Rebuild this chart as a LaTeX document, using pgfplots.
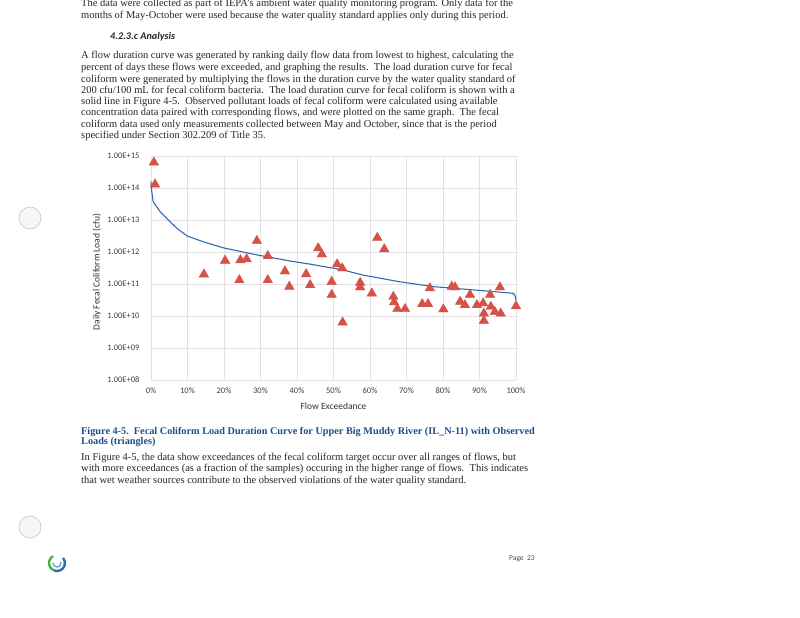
\documentclass[border=0pt]{standalone}
\usepackage{fontspec}
\setmainfont{Liberation Serif}
\newfontfamily\chartfont{Carlito}
\usepackage{pgfplots}
\pgfplotsset{compat=1.18}
\definecolor{tri}{RGB}{212,82,72}
\definecolor{curveblue}{RGB}{46,108,178}
\definecolor{capblue}{RGB}{31,78,140}
\definecolor{gridgray}{RGB}{226,226,226}
\begin{document}
\begin{tikzpicture}
\path[fill=white,use as bounding box] (0pt,0pt) rectangle (800pt,-618pt);
\tikzset{bl/.style={anchor=base west, inner sep=0pt, font=\fontsize{10.5}{12}\selectfont, text=black!85}}
\tikzset{capt/.style={anchor=base west, inner sep=0pt, font=\bfseries\fontsize{10.25}{12}\selectfont, text=capblue}}
% top paragraph
\node[bl] at (81pt,-7pt) {The data were collected as part of IEPA’s ambient water quality monitoring program. Only data for the};
\node[bl] at (81pt,-18.5pt) {months of May-October were used because the water quality standard applies only during this period.};
\node[anchor=base west, inner sep=0pt, font=\chartfont\bfseries\itshape\fontsize{10.2}{12}\selectfont, text=black!85] at (110pt,-40pt) {4.2.3.c Analysis};
\node[bl] at (81pt,-59pt) {A flow duration curve was generated by ranking daily flow data from lowest to highest, calculating the};
\node[bl] at (81pt,-70.5pt) {percent of days these flows were exceeded, and graphing the results.\ \ The load duration curve for fecal};
\node[bl] at (81pt,-82pt) {coliform were generated by multiplying the flows in the duration curve by the water quality standard of};
\node[bl] at (81pt,-93.3pt) {200 cfu/100 mL for fecal coliform bacteria.\ \ The load duration curve for fecal coliform is shown with a};
\node[bl] at (81pt,-104.6pt) {solid line in Figure 4-5.\ \ Observed pollutant loads of fecal coliform were calculated using available};
\node[bl] at (81pt,-115.9pt) {concentration data paired with corresponding flows, and were plotted on the same graph.\ \ The fecal};
\node[bl] at (81pt,-127.2pt) {coliform data used only measurements collected between May and October, since that is the period};
\node[bl] at (81pt,-138.5pt) {specified under Section 302.209 of Title 35.};
% caption
\node[capt] at (81pt,-434.5pt) {Figure 4-5.\ \ Fecal Coliform Load Duration Curve for Upper Big Muddy River (IL\_N-11) with Observed};
\node[capt] at (81pt,-444.5pt) {Loads (triangles)};
\node[bl] at (81pt,-460pt) {In Figure 4-5, the data show exceedances of the fecal coliform target occur over all ranges of flows, but};
\node[bl] at (81pt,-471.7pt) {with more exceedances (as a fraction of the samples) occuring in the higher range of flows.\ \ This indicates};
\node[bl] at (81pt,-483.3pt) {that wet weather sources contribute to the observed violations of the water quality standard.};
% page decorations
\draw[draw=gray!45, fill=gray!7, line width=0.6pt] (30pt,-218pt) circle (11pt);
\draw[draw=gray!45, fill=gray!7, line width=0.6pt] (30pt,-527pt) circle (11pt);
\draw[line width=2.4pt, draw=green!55!black!70] (57pt,-563pt) ++(120:8pt) arc (120:250:8pt);
\draw[line width=2.4pt, draw=curveblue] (57pt,-563pt) ++(250:8pt) arc (250:400:8pt);
\draw[line width=1.4pt, draw=cyan!60!blue!60] (57pt,-563pt) ++(180:4pt) arc (180:380:4pt);
\node[anchor=base west, inner sep=0pt, font=\chartfont\fontsize{7.5}{8}\selectfont, text=black!70] at (509pt,-560pt) {Page\ \ 23};
% chart
\begin{axis}[
  at={(151pt,-380pt)}, anchor=south west,
  scale only axis, width=365pt, height=224pt,
  xmin=0, xmax=100, ymin=1e8, ymax=1e15, ymode=log,
  xtick={0,10,...,100},
  xticklabels={0\%,10\%,20\%,30\%,40\%,50\%,60\%,70\%,80\%,90\%,100\%},
  ytick={1e8,1e9,1e10,1e11,1e12,1e13,1e14,1e15},
  yticklabels={1.00E+08,1.00E+09,1.00E+10,1.00E+11,1.00E+12,1.00E+13,1.00E+14,1.00E+15},
  grid=major, major grid style={draw=gridgray, line width=0.6pt},
  axis line style={draw=none}, tick style={draw=none},
  ticklabel style={font=\chartfont\fontsize{8.5}{10}\selectfont, text=black!75},
  xticklabel style={yshift=-4pt},
  yticklabel style={xshift=-8pt},
  label style={font=\chartfont\fontsize{9.5}{11}\selectfont, text=black!80},
  xlabel={Flow Exceedance},
  ylabel={Daily Fecal Coliform Load (cfu)},
  xlabel style={at={(axis description cs:0.5,-0.116)}, anchor=center},
  ylabel style={at={(axis description cs:-0.148,0.482)}, anchor=center, rotate=0},
  clip=false,
]
\addplot[curveblue, line width=1.1pt, no marks] coordinates {
(0,1.585e14) (0.2,7.94e13) (0.6,3.72e13) (2.5,1.82e13) (4.3,1.12e13)
(7.1,5.5e12) (9.9,3.16e12) (14.3,2.09e12) (19.8,1.35e12) (29,8.13e11)
(38,5.25e11) (43.6,4.17e11) (52.6,2.75e11) (58,1.91e11) (68.2,1.17e11)
(77.3,8.3e10) (90,6.3e10) (99.2,5.13e10) (99.7,4.47e10) (100,3.16e10)
};
\addplot[only marks, mark=triangle*, mark size=5.5pt, mark options={fill=tri, draw=tri}] coordinates {
(0.8,6.3e14) (1.1,1.3e14)
(14.5,2.0e11) (20.3,5.4e11) (24.5,5.6e11) (26.2,6.0e11) (29,2.24e12)
(24.2,1.33e11) (32,7.5e11) (32,1.33e11) (36.7,2.5e11) (37.9,8.3e10)
(42.5,2.04e11) (43.6,9.3e10) (45.8,1.32e12) (46.8,8.5e11) (51.0,4.17e11)
(52.4,3.1e11) (49.5,1.17e11) (49.5,4.6e10) (52.5,6.3e9) (57.3,1.1e11)
(57.3,7.9e10) (60.5,5.1e10) (62,2.8e12) (63.9,1.23e12) (66.4,4.0e10)
(66.6,2.7e10) (67.5,1.66e10) (69.6,1.66e10) (74.3,2.37e10) (75.9,2.37e10)
(76.4,7.4e10) (80.1,1.62e10) (82.4,8.3e10) (83.3,7.9e10) (84.7,2.8e10)
(86,2.2e10) (87.4,4.6e10) (89.3,2.2e10) (91,2.5e10) (91.2,1.2e10)
(91.2,7.1e9) (92.9,4.6e10) (93.1,1.95e10) (94.2,1.35e10) (95.6,7.9e10)
(95.8,1.2e10) (100,2.04e10)
};
\end{axis}
\end{tikzpicture}
\end{document}
